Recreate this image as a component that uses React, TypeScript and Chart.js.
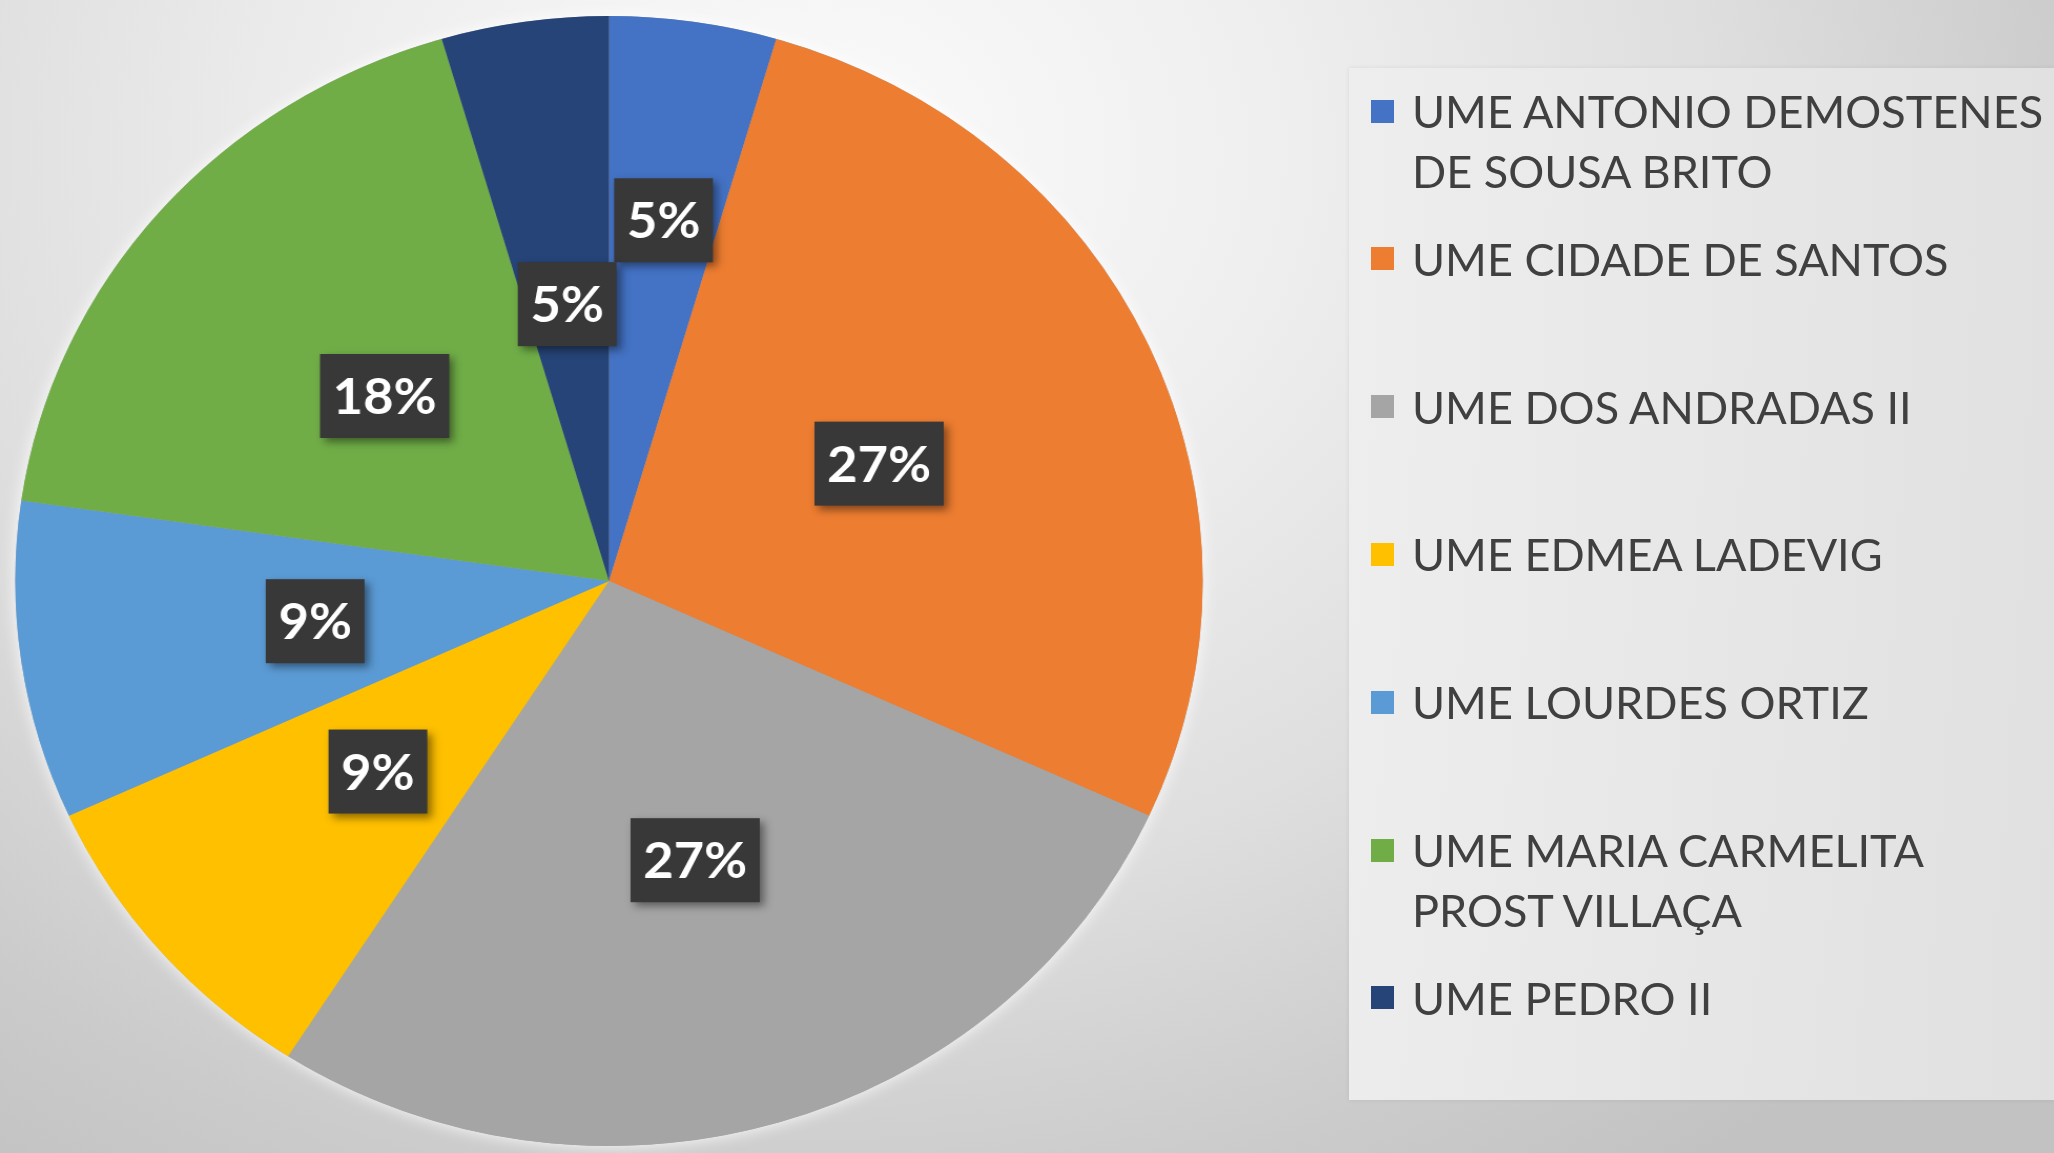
import React, { useEffect, useRef } from 'react';
import { Chart, registerables } from 'chart.js';

Chart.register(...registerables);

const categories = [
  'UME ANTONIO DEMOSTENES DE SOUSA BRITO',
  'UME CIDADE DE SANTOS',
  'UME DOS ANDRADAS II',
  'UME EDMEA LADEVIG',
  'UME LOURDES ORTIZ',
  'UME MARIA CARMELITA PROST VILLAÇA',
  'UME PEDRO II',
];
const legendLines = [
  ['UME ANTONIO DEMOSTENES', 'DE SOUSA BRITO'],
  ['UME CIDADE DE SANTOS'],
  ['UME DOS ANDRADAS II'],
  ['UME EDMEA LADEVIG'],
  ['UME LOURDES ORTIZ'],
  ['UME MARIA CARMELITA', 'PROST VILLAÇA'],
  ['UME PEDRO II'],
];
const values = [1, 6, 6, 2, 2, 4, 1];
const colors = ['#4472C4', '#ED7D31', '#A5A5A5', '#FFC000', '#5B9BD5', '#70AD47', '#264478'];

const glowPlugin = {
  id: 'glow',
  beforeDatasetsDraw(chart: any) {
    const arc = chart.getDatasetMeta(0).data[0] as any;
    if (!arc) return;
    const ctx = chart.ctx;
    ctx.save();
    ctx.beginPath();
    ctx.arc(arc.x, arc.y, arc.outerRadius, 0, Math.PI * 2);
    ctx.shadowColor = 'rgba(255,255,255,0.9)';
    ctx.shadowBlur = 16;
    ctx.fillStyle = '#a5a5a5';
    ctx.fill();
    ctx.restore();
  },
};

const labelPlugin = {
  id: 'boxLabels',
  afterDatasetsDraw(chart: any, _args: any, opts: any) {
    const ctx = chart.ctx;
    const meta = chart.getDatasetMeta(0);
    const data = chart.data.datasets[0].data as number[];
    const total = data.reduce((a, b) => a + b, 0);
    ctx.save();
    ctx.font = `bold ${opts.fontSize}px Lato, "Open Sans", sans-serif`;
    meta.data.forEach((arc: any, i: number) => {
      const { x, y, startAngle, endAngle, outerRadius } = arc.getProps(
        ['x', 'y', 'startAngle', 'endAngle', 'outerRadius'],
        true
      );
      const mid = (startAngle + endAngle) / 2;
      const r = outerRadius * opts.radial[i];
      const px = x + Math.cos(mid) * r;
      const py = y + Math.sin(mid) * r;
      const text = Math.round((data[i] / total) * 100) + '%';
      const w = ctx.measureText(text).width + opts.padX * 2;
      const h = opts.boxH;
      ctx.shadowColor = 'rgba(0,0,0,0.45)';
      ctx.shadowBlur = 8;
      ctx.shadowOffsetX = 4;
      ctx.shadowOffsetY = 4;
      ctx.fillStyle = '#383838';
      ctx.fillRect(px - w / 2, py - h / 2, w, h);
      ctx.shadowColor = 'transparent';
      ctx.shadowBlur = 0;
      ctx.shadowOffsetX = 0;
      ctx.shadowOffsetY = 0;
      ctx.fillStyle = '#ffffff';
      ctx.textAlign = 'center';
      ctx.textBaseline = 'middle';
      ctx.fillText(text, px, py + 2);
    });
    ctx.restore();
  },
};

export default function App() {
  const canvasRef = useRef<HTMLCanvasElement | null>(null);

  useEffect(() => {
    if (!canvasRef.current) return;
    const chart = new Chart(canvasRef.current, {
      type: 'pie',
      data: {
        labels: categories,
        datasets: [
          {
            data: values,
            backgroundColor: colors,
            borderWidth: 0,
            hoverBorderWidth: 0,
            hoverOffset: 0,
          },
        ],
      },
      options: {
        responsive: false,
        animation: false,
        events: [],
        layout: { padding: { left: 14.5, right: 14.5, top: 16, bottom: 7 } },
        plugins: {
          legend: { display: false },
          tooltip: { enabled: false },
          boxLabels: {
            fontSize: 50,
            padX: 12,
            boxH: 84,
            radial: [0.645, 0.5, 0.515, 0.515, 0.5, 0.5, 0.495],
          },
        } as any,
      },
      plugins: [glowPlugin, labelPlugin],
    });
    return () => chart.destroy();
  }, []);

  const boxLeft = 1349;
  const boxTop = 68;

  return (
    <div
      style={{
        position: 'fixed',
        left: 0,
        top: 0,
        width: 2054,
        height: 1153,
        overflow: 'hidden',
        background:
          'radial-gradient(ellipse 1500px 1250px at 820px 150px, #fbfbfb 0%, #efefef 30%, #dedede 60%, #cbcbcb 85%, #c2c2c2 100%)',
      }}
    >
      <div
        style={{
          position: 'absolute',
          left: boxLeft,
          top: boxTop,
          width: 2054 - boxLeft,
          height: 1100 - boxTop,
          background: 'linear-gradient(to right, rgba(238,238,238,0.95), rgba(226,226,226,0.95))',
          boxShadow: '0 0 5px rgba(0,0,0,0.08)',
        }}
      >
        {legendLines.map((lines, i) => (
          <div
            key={i}
            style={{
              position: 'absolute',
              left: 0,
              top: 13 + i * 147.8,
              width: '100%',
            }}
          >
            <div
              style={{
                position: 'absolute',
                left: 22,
                top: 30 - 11.5,
                width: 23,
                height: 23,
                background: colors[i],
              }}
            />
            <div
              style={{
                position: 'absolute',
                left: 63,
                top: 0,
                fontFamily: 'Lato, "Open Sans", sans-serif',
                fontSize: 45,
                lineHeight: '60px',
                color: '#404040',
                whiteSpace: 'nowrap',
              }}
            >
              {lines.map((l, j) => (
                <div key={j}>{l}</div>
              ))}
            </div>
          </div>
        ))}
      </div>
      <canvas
        ref={canvasRef}
        width={1159}
        height={1153}
        style={{ position: 'absolute', left: 0, top: 0, width: 1218, height: 1153 }}
      />
    </div>
  );
}
